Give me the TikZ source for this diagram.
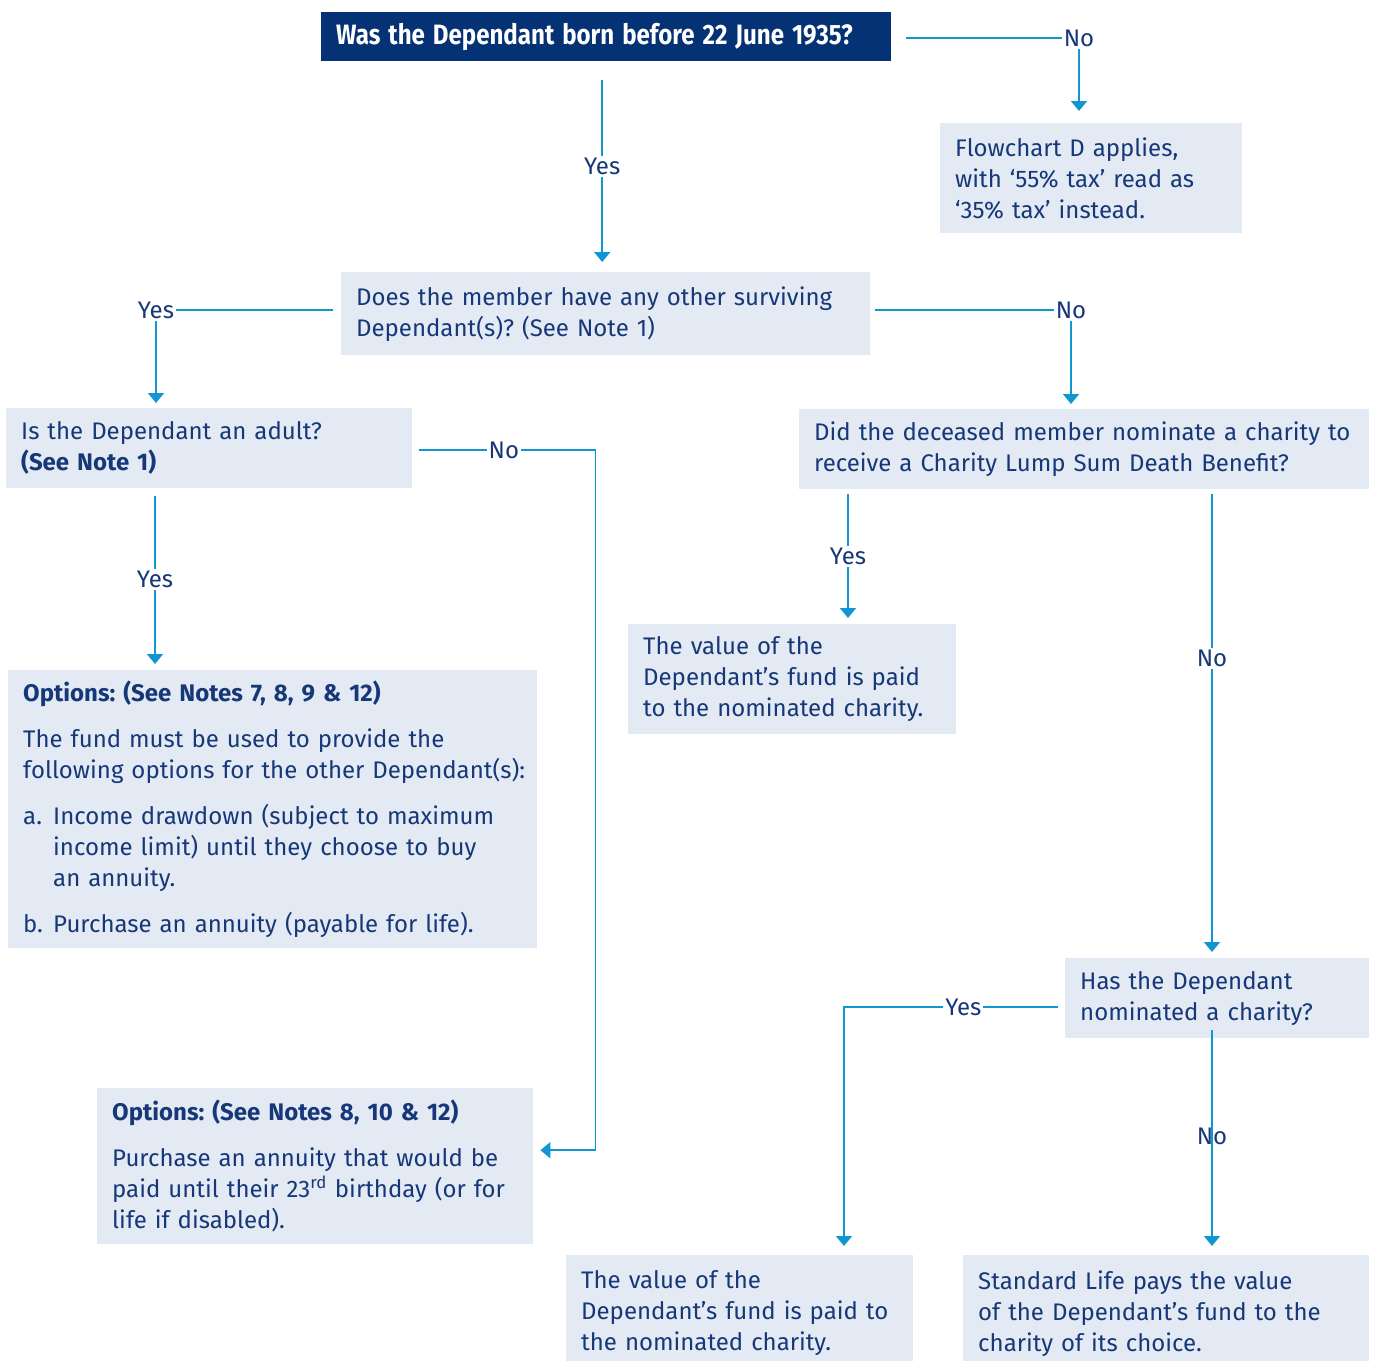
\documentclass[tikz,border=0pt]{standalone}
\usepackage{fontspec}
\setmainfont{Fira Sans}
\newfontfamily\headfont[FakeStretch=0.86]{Fira Sans}
\usetikzlibrary{arrows.meta}
\definecolor{navyfill}{RGB}{5,49,117}
\definecolor{navytext}{RGB}{22,56,120}
\definecolor{boxfill}{RGB}{227,234,244}
\definecolor{linkblue}{RGB}{16,150,208}
\frenchspacing
\begin{document}
\begin{tikzpicture}[x=1pt, y=-1pt,
  every node/.style = {font=\fontsize{24}{31}\selectfont, text=navytext},
  box/.style = {fill=boxfill, anchor=north west, align=left,
    inner xsep=15pt, inner ysep=0pt},
  conn/.style = {draw=linkblue, line width=1.8pt,
    -{Triangle[width=16pt,length=10pt]}},
  lbl/.style = {fill=white, inner sep=2pt}]
  \useasboundingbox (0,0) rectangle (1375,1360);

  \node (title) [box, fill=navyfill, text=white, text width=540pt,
    minimum height=49pt] at (321,12)
    {\headfont\bfseries\fontsize{28}{31}\selectfont Was the Dependant born before 22 June 1935?};
  \node (fd) [box, text width=272pt, minimum height=110pt] at (940,123)
    {Flowchart D applies,\\with ‘55\% tax’ read as\\‘35\% tax’ instead.};
  \node (q2) [box, text width=499pt, minimum height=83pt] at (341,272)
    {Does the member have any other surviving\\Dependant(s)? (See Note 1)};
  \node (adult) [box, text width=376pt, minimum height=80pt] at (6,408)
    {Is the Dependant an adult?\\\textbf{(See Note 1)}};
  \node (charity) [box, text width=540pt, minimum height=80pt] at (799,409)
    {Did the deceased member nominate a charity to\\receive a Charity Lump Sum Death Benefit?};
  \node (opt1) [box, text width=499pt, minimum height=278pt] at (8,670)
    {\textbf{Options: (See Notes 7, 8, 9 \& 12)}\\[15pt]
     The fund must be used to provide the\\
     \mbox{following options for the other Dependant(s):}\\[15pt]
     \makebox[30pt][l]{a.}Income drawdown (subject to maximum\\
     \hspace*{30pt}income limit) until they choose to buy\\
     \hspace*{30pt}an annuity.\\[15pt]
     \makebox[30pt][l]{b.}Purchase an annuity (payable for life).};
  \node (val1) [box, text width=298pt, minimum height=110pt] at (628,624)
    {The value of the\\Dependant’s fund is paid\\to the nominated charity.};
  \node (has) [box, text width=274pt, minimum height=80pt] at (1065,958)
    {Has the Dependant\\nominated a charity?};
  \node (opt2) [box, text width=406pt, minimum height=156pt] at (97,1088)
    {\textbf{Options: (See Notes 8, 10 \& 12)}\\[15pt]
     Purchase an annuity that would be\\
     paid until their 23\textsuperscript{rd} birthday (or for\\
     life if disabled).};
  \node (val2) [box, text width=317pt, minimum height=116pt] at (566,1255)
    {The value of the\\Dependant’s fund is paid to\\the nominated charity.};
  \node (std) [box, text width=376pt, minimum height=116pt] at (963,1255)
    {Standard Life pays the value\\of the Dependant’s fund to the\\charity of its choice.};

  \draw[conn, shorten <=19pt, shorten >=10pt]
    ([xshift=-4pt]title.south) -- node[lbl] {Yes} ([xshift=-4pt]title.south |- q2.north);
  \draw[conn, shorten <=15pt, shorten >=12pt]
    ([yshift=-1.5pt]title.east) -| node[lbl, pos=0.5] {No} ([xshift=139pt]fd.north west);
  \draw[conn, shorten <=8pt, shorten >=5pt]
    ([yshift=3.5pt]q2.west) -| node[lbl, pos=0.5] {Yes} ([xshift=150pt]adult.north west);
  \draw[conn, shorten <=5pt, shorten >=5pt]
    ([yshift=3.5pt]q2.east) -| node[lbl, pos=0.5] {No} ([xshift=272pt]charity.north west);
  \draw[conn, shorten <=8pt, shorten >=6pt]
    ([xshift=147pt]opt1.north west |- adult.south) -- node[lbl] {Yes} ([xshift=147pt]opt1.north west);
  \draw[conn, shorten <=7pt, shorten >=7pt]
    ([yshift=-2pt]adult.east) -- node[lbl] {No} ++(183,0) |- ([yshift=16pt]opt2.east);
  \draw[conn, shorten <=5pt, shorten >=6pt]
    ([xshift=220pt]val1.north west |- charity.south) -- node[lbl] {Yes} ([xshift=220pt]val1.north west);
  \draw[conn, shorten <=5pt, shorten >=6pt]
    ([xshift=147pt]has.north west |- charity.south) -- node[lbl, pos=0.36] {No} ([xshift=147pt]has.north west);
  \draw[conn, shorten <=7pt, shorten >=9pt]
    ([yshift=-9pt]has.west) -| node[lbl, pos=0.23] {Yes} ([xshift=278pt]val2.north west);
  \draw[conn, shorten <=-8pt, shorten >=9pt]
    ([xshift=249pt]std.north west |- has.south) -- node[pos=0.45, inner sep=0pt] {No} ([xshift=249pt]std.north west);
\end{tikzpicture}
\end{document}
